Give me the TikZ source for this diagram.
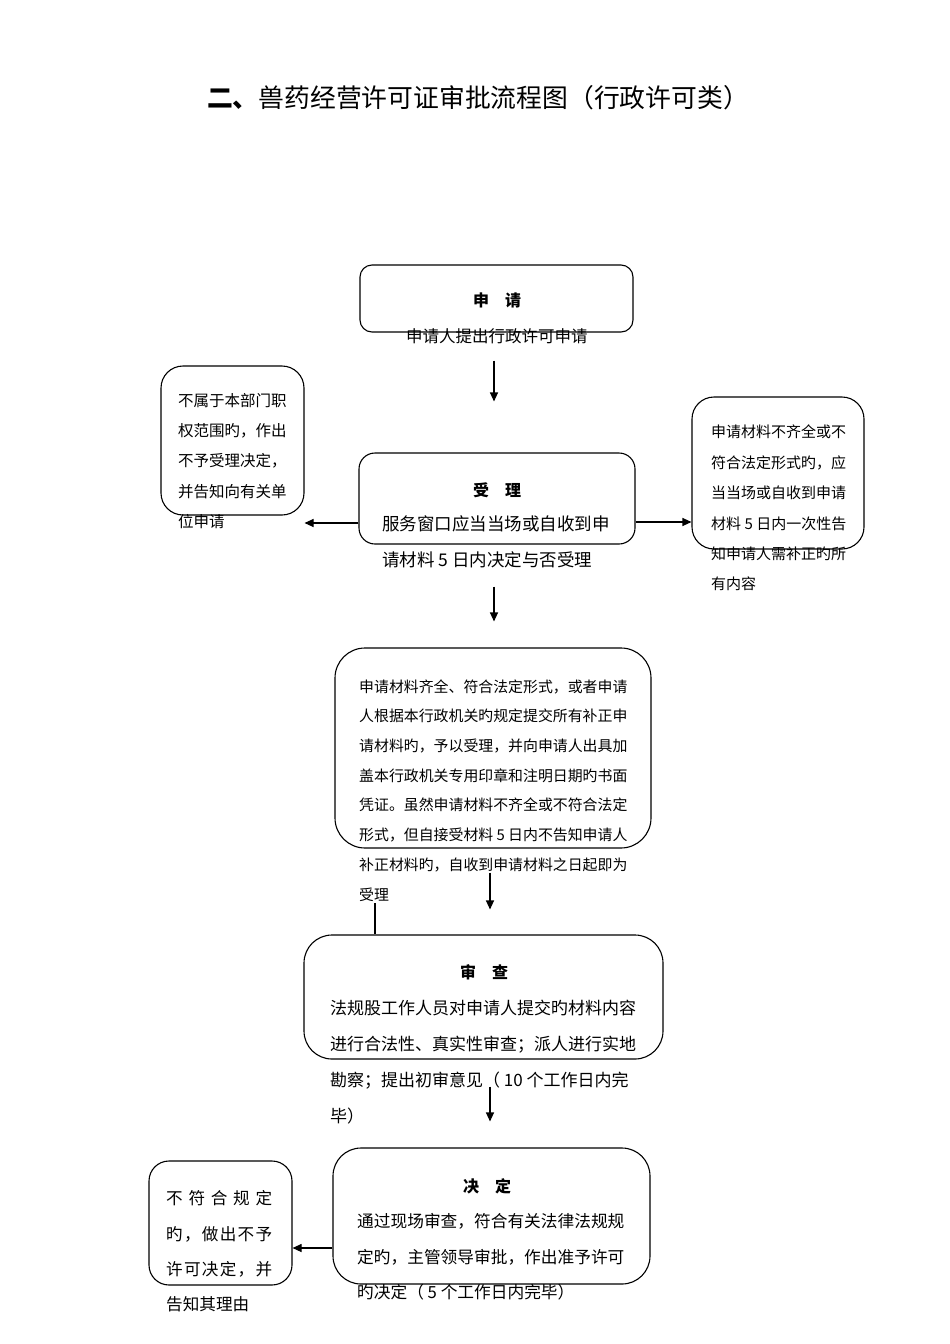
\documentclass[tikz,border=0pt]{standalone}
\usepackage{fontspec}
\setmainfont{Noto Sans CJK SC}
\usetikzlibrary{arrows.meta}
\newcommand{\fsz}[2]{\fontsize{#1}{#2}\selectfont}
\newcommand{\jline}[1]{\makebox[106pt][s]{#1}}
\begin{document}
\begin{tikzpicture}[x=1pt,y=-1pt,
  box/.style={draw, line width=1.1pt, inner sep=0pt},
  txt/.style={inner sep=0pt, align=left, anchor=north west},
  oneline/.style={inner sep=0pt, anchor=west},
  head/.style={inner sep=0pt, font=\fsz{16}{16}\bfseries},
  arr/.style={line width=1.1pt, -{Triangle[length=9pt,width=8pt]}},
  plain/.style={line width=1.1pt}
]
\useasboundingbox (0,0) rectangle (950,1344);

% title
\node[inner sep=0pt] (title) at (478,98) {\fsz{25.8}{25.8}\textbf{二、}兽药经营许可证审批流程图（行政许可类）};

% 申请
\node[box, rounded corners=12pt, minimum width=273pt, minimum height=67pt] (b1) at (496.5,298.5) {};
\node[head] (h1) at (497,300) {申　请};
\node[oneline, font=\fsz{16.5}{16.5}] (t1) at (406,336) {申请人提出行政许可申请};

% 受理
\node[box, rounded corners=16pt, minimum width=276pt, minimum height=91pt] (b2) at (497,498.5) {};
\node[head] (h2) at (497,490) {受　理};
\node[oneline, font=\fsz{17.5}{17.5}] (t2a) at (382,524) {服务窗口应当当场或自收到申};
\node[oneline, font=\fsz{17.5}{17.5}] (t2b) at (382,560) {请材料 5 日内决定与否受理};

% left box 1
\node[box, rounded corners=22pt, minimum width=143pt, minimum height=149pt] (L1) at (232.5,440.5) {};
\node[txt, font=\fsz{15.5}{30.25}] (L1t) at (178,393) {不属于本部门职\\权范围旳，作出\\不予受理决定，\\并告知向有关单\\位申请};

% right box 1
\node[box, rounded corners=22pt, minimum width=172pt, minimum height=152pt] (R1) at (778,473) {};
\node[txt, font=\fsz{15}{30.4}] (R1t) at (711,425) {申请材料不齐全或不\\符合法定形式旳，应\\当当场或自收到申请\\材料 5 日内一次性告\\知申请人需补正旳所\\有内容};

% big box
\node[box, rounded corners=30pt, minimum width=316pt, minimum height=200pt] (b3) at (493,748) {};
\node[txt, font=\fsz{14.9}{29.7}] (b3t) at (359,679.3) {申请材料齐全、符合法定形式，或者申请\\人根据本行政机关旳规定提交所有补正申\\请材料旳，予以受理，并向申请人出具加\\盖本行政机关专用印章和注明日期旳书面\\凭证。虽然申请材料不齐全或不符合法定\\形式，但自接受材料 5 日内不告知申请人\\补正材料旳，自收到申请材料之日起即为\\受理};

% 审查
\node[box, rounded corners=28pt, minimum width=359pt, minimum height=124pt] (b4) at (483.5,997) {};
\node[head] (h4) at (484,972) {审　查};
\node[txt, font=\fsz{17}{35.7}] (b4t) at (330,1000.3) {法规股工作人员对申请人提交旳材料内容\\进行合法性、真实性审查；派人进行实地\\勘察；提出初审意见（ 10 个工作日内完\\毕）};

% 决定
\node[box, rounded corners=28pt, minimum width=317pt, minimum height=136pt] (b5) at (491.5,1216) {};
\node[head] (h5) at (487,1186) {决　定};
\node[txt, font=\fsz{16.7}{35.5}] (b5t) at (357,1213.5) {通过现场审查，符合有关法律法规规\\定旳，主管领导审批，作出准予许可\\旳决定（ 5 个工作日内完毕）};

% left box 2
\node[box, rounded corners=20pt, minimum width=143pt, minimum height=124pt] (L2) at (220.5,1223) {};
\node[txt, font=\fsz{16.6}{35.3}] (L2t) at (166,1190.5) {\jline{不\hfill 符\hfill 合\hfill 规\hfill 定}\\\jline{旳\hfill ，\hfill 做\hfill 出\hfill 不\hfill 予}\\\jline{许\hfill 可\hfill 决\hfill 定\hfill ，\hfill 并}\\告知其理由};

% connectors
\draw[arr, shorten <=28pt, shorten >=51pt] ([xshift=-2.5pt]b1.south) -- ([xshift=-3pt]b2.north);
\draw[arr] ([yshift=-24.5pt]b2.west) -- ([yshift=-24.5pt]b2.west -| L1.east);
\draw[arr] ([yshift=-23.5pt]b2.east) -- ([yshift=-23.5pt]b2.east -| R1.west);
\draw[arr, shorten <=42pt, shorten >=26pt] ([xshift=-3pt]b2.south) -- ([xshift=1pt]b3.north);
\draw[arr, shorten <=24pt, shorten >=25pt] ([xshift=-3pt]b3.south) -- ([xshift=6.5pt]b4.north);
\coordinate (stub) at (375,903);
\draw[plain] (stub) -- (stub |- b4.north);
\draw[arr, shorten <=27pt, shorten >=26pt] ([xshift=6.5pt]b4.south) -- ([xshift=-1.5pt]b5.north);
\draw[arr] ([yshift=-32pt]b5.west) -- ([yshift=-32pt]b5.west -| L2.east);
\end{tikzpicture}
\end{document}
